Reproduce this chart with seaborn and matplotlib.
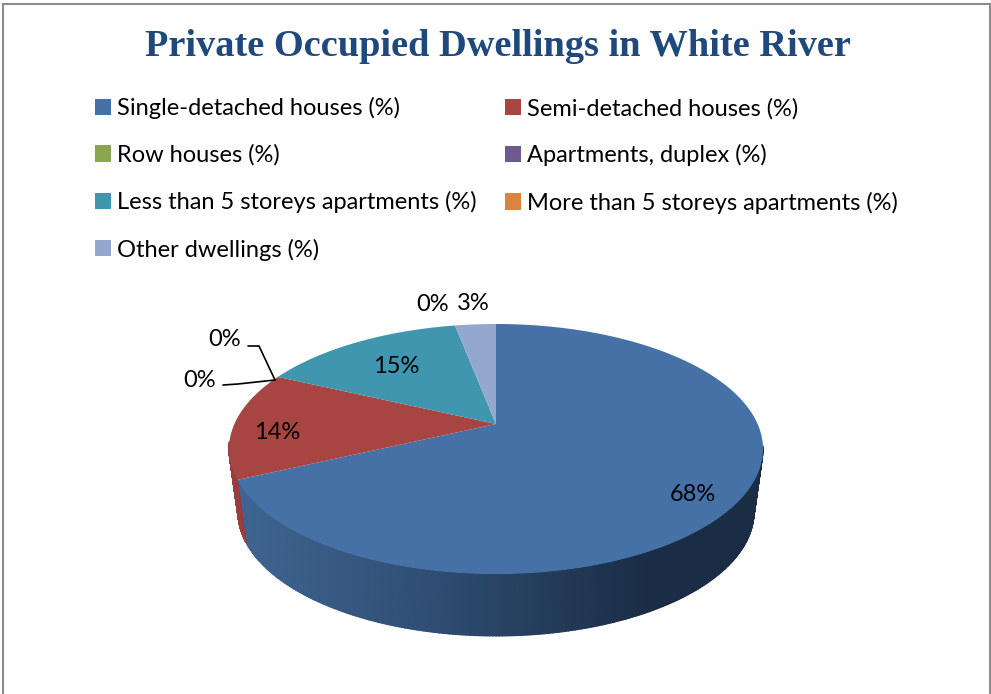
import numpy as np
import matplotlib
matplotlib.use("Agg")
import matplotlib.pyplot as plt
from matplotlib.colors import LinearSegmentedColormap
from matplotlib.path import Path
from matplotlib.transforms import Transform
import seaborn as sns

# Dwelling mix, clockwise from twelve o'clock
categories = [
    "Single-detached houses (%)",
    "Semi-detached houses (%)",
    "Row houses (%)",
    "Apartments, duplex (%)",
    "Less than 5 storeys apartments (%)",
    "More than 5 storeys apartments (%)",
    "Other dwellings (%)",
]
shares = [68, 14, 0, 0, 15, 0, 3]
slice_colors = ["#4571A7", "#A64542", "#89A54E", "#71588F", "#4096AE", "#DB843D", "#94A8CE"]
chart_title = "Private Occupied Dwellings in White River"

sns.set_theme(style="white")
plt.rcParams["font.family"] = ["Lato", "DejaVu Sans"]
palette = sns.color_palette(slice_colors)

W, H = 991, 694
FRAME_L, FRAME_R, FRAME_T = 3, 990, 4


class TiltedDisc(Transform):
    """Projects the unit disc onto an ellipse with perspective foreshortening."""
    input_dims = output_dims = 2
    has_inverse = False

    def __init__(self, cx, cy, rx, ry, k=0.2):
        super().__init__()
        self.cx, self.cy, self.rx, self.ry, self.k = cx, cy, rx, ry, k

    def transform_non_affine(self, xy):
        xy = np.asarray(xy, dtype=float)
        x, y = xy[:, 0], xy[:, 1]
        d = 1 + self.k * y
        px = self.cx + self.rx * np.sqrt(1 - self.k ** 2) * x / d
        py = self.cy - self.ry * (y + self.k) / d
        return np.column_stack([px, py])

    def transform_path_non_affine(self, path):
        # Flatten at a large scale so the arcs stay smooth after projection
        big = Path(path.vertices * 2000, path.codes)
        polys = big.to_polygons(closed_only=False)
        verts = np.vstack(polys) / 2000 if polys else path.vertices
        return Path(self.transform_non_affine(verts))


top_face = TiltedDisc(496, 449, 267, 125)
bottom_face = TiltedDisc(496, 512, 258, 124)

fig = plt.figure(figsize=(W / 100, H / 100), dpi=100, facecolor="white")
ax = fig.add_axes([FRAME_L / W, 0, (FRAME_R - FRAME_L) / W, (H - FRAME_T) / H])


def wall(theta_from, theta_to, cmap, zorder=1):
    """Side of the drum between two polar angles, shaded left to right."""
    theta = np.radians(np.linspace(theta_from, theta_to, 240))
    rim = np.column_stack([np.cos(theta), np.sin(theta)])
    upper = top_face.transform_non_affine(rim)
    lower = bottom_face.transform_non_affine(rim)
    t = np.linspace(0, 1, 24)[:, None]
    X = upper[:, 0] * (1 - t) + lower[:, 0] * t
    Y = upper[:, 1] * (1 - t) + lower[:, 1] * t
    ax.pcolormesh(X, Y, X, shading="gouraud", cmap=cmap, vmin=240, vmax=650,
                  zorder=zorder, antialiased=True)


# Polar angles of the slice edges that face the viewer
edges = 90 - 3.6 * np.cumsum(shares)
blue_wall = LinearSegmentedColormap.from_list("blue_wall", ["#3F6592", "#2E4C70", "#1A2D45"])
red_wall = LinearSegmentedColormap.from_list("red_wall", ["#963F3C", "#963F3C"])
wall(edges[0], -10, blue_wall)
wall(-172, edges[0], red_wall)

wedges, _ = ax.pie(shares, colors=palette, startangle=90, counterclock=False,
                   radius=1, wedgeprops={"linewidth": 0, "zorder": 3})
for wedge in wedges:
    wedge.set_transform(top_face + ax.transData)

ax.set_aspect("auto")
ax.set_xlim(FRAME_L, FRAME_R)
ax.set_ylim(H, FRAME_T)
ax.set_frame_on(True)
ax.set_xticks([])
ax.set_yticks([])
for side, spine in ax.spines.items():
    spine.set_visible(side != "bottom")
    spine.set_color("#8C8C8C")
    spine.set_linewidth(1.5)

# Slice labels, in slice order
label_xy = [(693, 495), (277, 433), (225, 340), (200, 381), (396, 367), (433, 305), (473, 304)]
for value, (lx, ly) in zip(shares, label_xy):
    ax.text(lx, ly, f"{value}%", ha="center", va="center", fontsize=17,
            color="black", zorder=6)

# Leader lines for the two empty slices on the left
ax.plot([275, 259, 248], [380, 346, 346], color="black", lw=1.2, zorder=5)
ax.plot([275, 238, 223], [380, 384, 385], color="black", lw=1.2, zorder=5)

# Legend reads across the rows, so the handles go in column order
order = [0, 2, 4, 6, 1, 3, 5]
ax.legend([wedges[i] for i in order], [categories[i] for i in order],
          ncol=2, loc="upper left", bbox_to_anchor=(95, 97), bbox_transform=ax.transData,
          frameon=False, fontsize=17, labelcolor="black", borderpad=0, borderaxespad=0,
          handlelength=0.68, handleheight=0.68, handletextpad=0.25,
          columnspacing=1.19, labelspacing=1.07)

ax.text(497.5, 47, chart_title, ha="center", va="center", fontsize=27.6, fontweight="bold",
        family="Liberation Serif", color="#1F497D", zorder=6)

fig.savefig("out.png", dpi=100, facecolor="white")
